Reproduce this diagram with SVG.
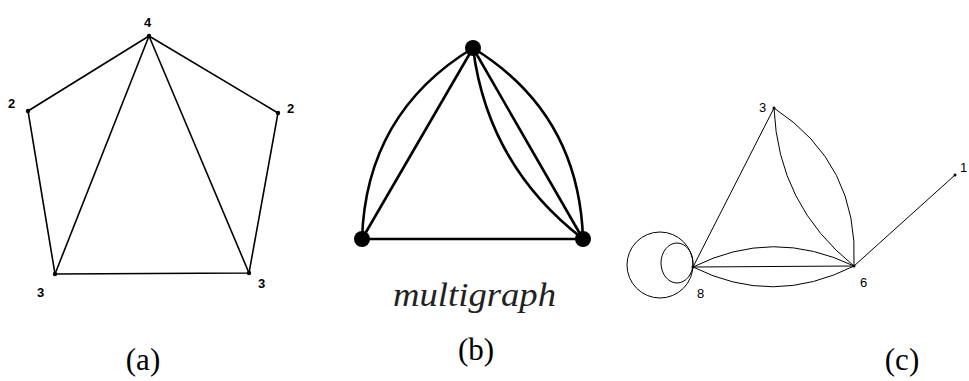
<svg xmlns="http://www.w3.org/2000/svg" width="969" height="381" viewBox="0 0 969 381">
<style>
.ea{stroke:#000;stroke-width:1.6;fill:none}
.eb{stroke:#000;stroke-width:2.6;fill:none}
.ec{stroke:#000;stroke-width:1;fill:none}
.na{fill:#000}
.lab{font-family:"Liberation Sans",Arial,sans-serif;font-size:13px;fill:#000}
.labb{font-family:"Liberation Sans",Arial,sans-serif;font-size:13px;font-weight:bold;fill:#000}
.cap{font-family:"Liberation Serif","Times New Roman",serif;font-size:31px;fill:#000;text-anchor:middle}
.mg{font-family:"Liberation Serif","Times New Roman",serif;font-style:italic;font-size:34px;fill:#222}
</style>
<rect width="969" height="381" fill="#fff"/>

<!-- Panel (a) -->
<g id="a-edges">
<polyline class="ea" points="149,36 28,111 55,274 249,273 278,113 149,36"/>
<line class="ea" x1="149" y1="36" x2="55" y2="274"/>
<line class="ea" x1="149" y1="36" x2="249" y2="273"/>
</g>
<g id="a-n4"><circle class="na" cx="149" cy="36" r="2.2"/><text class="labb" x="144" y="27">4</text></g>
<g id="a-n2l"><circle class="na" cx="28" cy="111" r="2.2"/><text class="labb" x="8" y="108">2</text></g>
<g id="a-n2r"><circle class="na" cx="278" cy="113" r="2.2"/><text class="labb" x="287" y="113">2</text></g>
<g id="a-n3l"><circle class="na" cx="55" cy="274" r="2.2"/><text class="labb" x="37" y="297">3</text></g>
<g id="a-n3r"><circle class="na" cx="249" cy="273" r="2.2"/><text class="labb" x="258" y="288">3</text></g>
<text class="cap" x="143" y="370">(a)</text>

<!-- Panel (b) -->
<g id="b-edges">
<line class="eb" x1="473" y1="48" x2="362" y2="239"/>
<path class="eb" d="M473,48 Q366,113 362,239"/>
<line class="eb" x1="473" y1="48" x2="583" y2="239"/>
<path class="eb" d="M473,48 Q579,113 583,239"/>
<path class="eb" d="M473,48 Q488,166 583,239"/>
<line class="eb" x1="362" y1="239" x2="583" y2="239"/>
</g>
<g id="b-top"><circle class="na" cx="473" cy="48" r="8"/></g>
<g id="b-bl"><circle class="na" cx="362" cy="239" r="8"/></g>
<g id="b-br"><circle class="na" cx="583" cy="239" r="8"/></g>
<text class="mg" x="393" y="306" textLength="163" lengthAdjust="spacingAndGlyphs">multigraph</text>
<text class="cap" x="476" y="360">(b)</text>

<!-- Panel (c) -->
<g id="c-edges">
<line class="ec" x1="774" y1="108" x2="693" y2="267"/>
<path class="ec" d="M774,108 Q859,164 854,266"/>
<path class="ec" d="M774,108 Q778,205 854,266"/>
<line class="ec" x1="693" y1="267" x2="854" y2="266"/>
<path class="ec" d="M693,267 Q773,227 854,266"/>
<path class="ec" d="M693,267 Q773,307 854,266"/>
<line class="ec" x1="854" y1="266" x2="955" y2="175"/>
<circle class="ec" cx="660" cy="265" r="33"/>
<ellipse class="ec" cx="677" cy="263" rx="16" ry="20"/>
</g>
<g id="c-n3"><circle class="na" cx="774" cy="108" r="1.5"/><text class="lab" x="759" y="112">3</text></g>
<g id="c-n8"><circle class="na" cx="693" cy="267" r="1.5"/><text class="lab" x="697" y="298">8</text></g>
<g id="c-n6"><circle class="na" cx="854" cy="266" r="1.5"/><text class="lab" x="860" y="287">6</text></g>
<g id="c-n1"><circle class="na" cx="955" cy="175" r="1.5"/><text class="lab" x="960" y="172" font-size="12">1</text></g>
<text class="cap" x="902" y="370">(c)</text>
</svg>
